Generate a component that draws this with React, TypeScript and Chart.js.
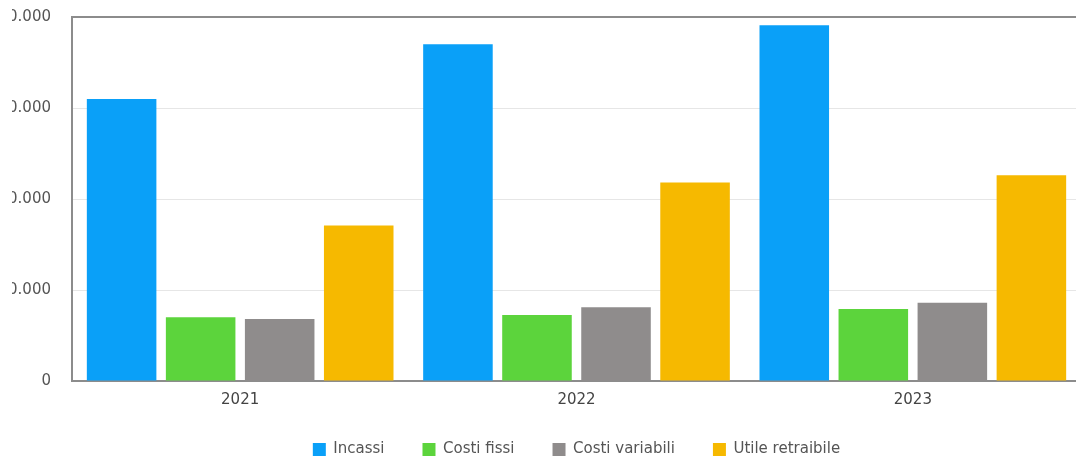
import React, { useEffect, useRef } from "react";
import { Chart, registerables } from "chart.js";

Chart.register(...registerables);

const categories = ["2021", "2022", "2023"];
const incassi = [31000, 37000, 39100];
const costiFissi = [7000, 7250, 7900];
const costiVariabili = [6800, 8100, 8600];
const utileRetraibile = [17100, 21800, 22600];
const seriesNames = ["Incassi", "Costi fissi", "Costi variabili", "Utile retraibile"];
const seriesColors = ["#0aa0f8", "#5cd43c", "#8f8c8c", "#f6b900"];
const yTickValues = [0, 10000, 20000, 30000, 40000];
const yTickLabels = ["0", "10.000", "20.000", "30.000", "40.000"];

export default function App() {
  const ref = useRef<HTMLCanvasElement | null>(null);

  useEffect(() => {
    if (!ref.current) return;
    const values = [incassi, costiFissi, costiVariabili, utileRetraibile];
    const chart = new Chart(ref.current, {
      type: "bar",
      data: {
        labels: categories,
        datasets: seriesNames.map((name, i) => ({
          label: name,
          data: values[i],
          backgroundColor: seriesColors[i],
          borderWidth: 0,
          categoryPercentage: 0.94,
          barPercentage: 0.88,
        })),
      },
      options: {
        animation: false,
        responsive: true,
        maintainAspectRatio: false,
        layout: { padding: { top: 17, right: 10, bottom: 0, left: 0 } },
        plugins: {
          tooltip: { enabled: false },
          legend: {
            position: "bottom",
            fullSize: false,
            labels: {
              boxWidth: 13,
              boxHeight: 13,
              padding: 38,
              color: "#555",
              font: { family: "DejaVu Sans", size: 15 },
            },
          },
        },
        scales: {
          x: {
            grid: { display: false, drawTicks: false },
            border: { display: true, color: "#8c8c8c", width: 2 },
            ticks: {
              padding: 10,
              color: "#444",
              font: { family: "DejaVu Sans", size: 15 },
            },
            afterFit: (scale: any) => {
              scale.height = 23;
            },
          },
          y: {
            min: 0,
            max: 40000,
            afterBuildTicks: (scale: any) => {
              scale.ticks = yTickValues.map((v) => ({ value: v }));
            },
            grid: {
              drawTicks: false,
              color: (ctx: any) => (ctx.tick && ctx.tick.value === 40000 ? "#8c8c8c" : "#e6e6e6"),
              lineWidth: (ctx: any) => (ctx.tick && ctx.tick.value === 40000 ? 2 : 1),
            },
            border: { display: true, color: "#8c8c8c", width: 2 },
            ticks: {
              padding: 21,
              color: "#555",
              font: { family: "DejaVu Sans", size: 15 },
              callback: (_v: any, i: number) => yTickLabels[i],
            },
            afterFit: (scale: any) => {
              scale.width = 100;
              scale.paddingTop = 9;
              scale.paddingBottom = 9;
            },
          },
        },
      },
    });
    return () => chart.destroy();
  }, []);

  return (
    <div
      style={{
        position: "fixed",
        left: 12,
        top: 0,
        width: 1064,
        height: 461,
        overflow: "hidden",
        background: "#fff",
      }}
    >
      <div style={{ position: "absolute", left: -40, top: 0, width: 1119, height: 467 }}>
        <canvas ref={ref} />
      </div>
    </div>
  );
}
